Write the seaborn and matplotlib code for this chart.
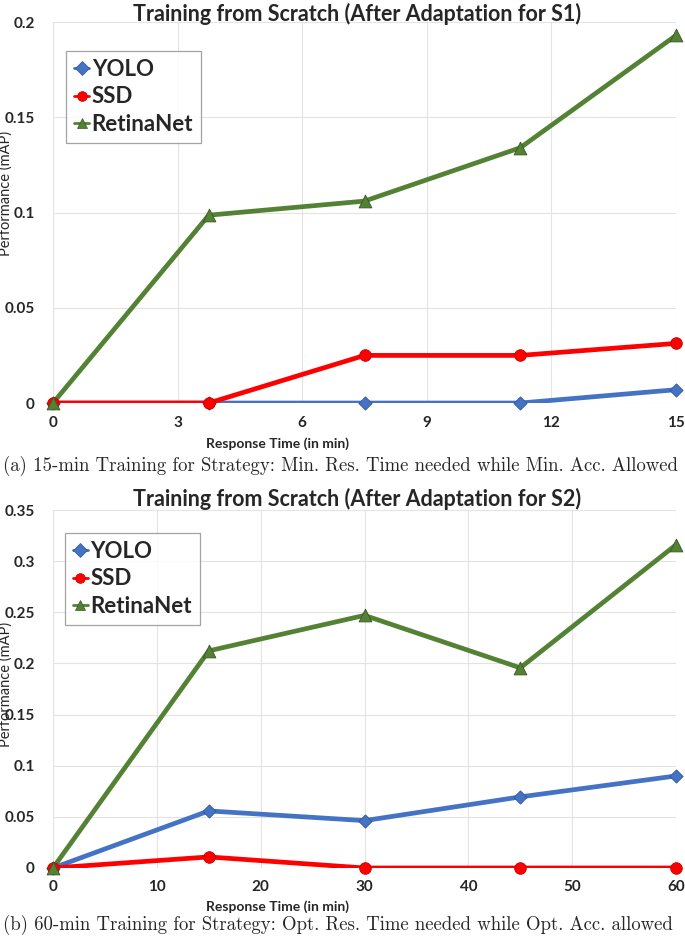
import pandas as pd
import matplotlib.pyplot as plt
import seaborn as sns
from matplotlib.lines import Line2D
from matplotlib.ticker import FuncFormatter, MultipleLocator

# --- data ---
models = ["YOLO", "SSD", "RetinaNet"]

time_s1 = [0, 3.75, 7.5, 11.25, 15]
yolo_s1 = [0, 0, 0, 0, 0.0070]
ssd_s1 = [0, 0, 0.025, 0.025, 0.0313]
retina_s1 = [0, 0.0986, 0.106, 0.134, 0.193]

time_s2 = [0, 15, 30, 45, 60]
yolo_s2 = [0, 0.0558, 0.0463, 0.0695, 0.090]
ssd_s2 = [0, 0.0108, 0, 0, 0]
retina_s2 = [0, 0.2123, 0.247, 0.1957, 0.316]

colors = {"YOLO": "#4472C4", "SSD": "#FF0000", "RetinaNet": "#548235"}
edges = {"YOLO": "#2F5597", "SSD": "#C00000", "RetinaNet": "#385723"}
markers = {"YOLO": "D", "SSD": "o", "RetinaNet": "^"}
msizes = {"YOLO": 45, "SSD": 70, "RetinaNet": 85}


def long_form(t, yolo, ssd, retina):
    rows = []
    for name, vals in zip(models, [yolo, ssd, retina]):
        for x, y in zip(t, vals):
            rows.append({"time": x, "mAP": y, "model": name})
    return pd.DataFrame(rows)


sns.set_style("white")
plt.rcParams["font.family"] = ["Lato", "DejaVu Sans"]

fig = plt.figure(figsize=(6.85, 9.41), dpi=100)
ax1 = fig.add_axes([0.0774, 0.5717, 0.9095, 0.4049])
ax2 = fig.add_axes([0.0774, 0.0776, 0.9095, 0.3804])

panels = [
    (ax1, long_form(time_s1, yolo_s1, ssd_s1, retina_s1), 15, 3, 0.2,
     "Training from Scratch (After Adaptation for S1)", 1, 0.55, (0.021, 0.924)),
    (ax2, long_form(time_s2, yolo_s2, ssd_s2, retina_s2), 60, 10, 0.35,
     "Training from Scratch (After Adaptation for S2)", 3, 0.514, (0.019, 0.936)),
]

for ax, df, xmax, xstep, ymax, title, tpad, ylab_y, leg_anchor in panels:
    for name in models:
        sub = df[df["model"] == name]
        sns.lineplot(data=sub, x="time", y="mAP", ax=ax, color=colors[name],
                     linewidth=3.4, legend=False)
        sns.scatterplot(data=sub, x="time", y="mAP", ax=ax,
                        color=colors[name], marker=markers[name],
                        s=msizes[name], edgecolor=edges[name],
                        linewidth=0.6, legend=False, zorder=3)
    # markers sit on the axis edge without being cut, like the original
    for coll in ax.collections:
        coll.set_clip_on(False)

    ax.set_xlim(0, xmax)
    ax.set_ylim(0, ymax)
    ax.xaxis.set_major_locator(MultipleLocator(xstep))
    ax.yaxis.set_major_locator(MultipleLocator(0.05))
    ax.yaxis.set_major_formatter(FuncFormatter(lambda v, p: f"{v:g}"))
    ax.grid(True, color="#E3E3E3", linewidth=0.8)
    ax.set_axisbelow(True)
    for sp in ax.spines.values():
        sp.set_visible(False)
    ax.tick_params(axis="both", length=0, labelsize=11)
    ax.tick_params(axis="x", pad=9)
    ax.tick_params(axis="y", pad=13)
    for lab in ax.get_xticklabels() + ax.get_yticklabels():
        lab.set_fontweight("bold")

    ax.set_title(title, fontsize=15.5, fontweight="bold", pad=tpad, x=0.488)
    ax.set_xlabel("Response Time (in min)", fontsize=10, fontweight="bold")
    ax.xaxis.set_label_coords(0.361, -0.089)
    ax.set_ylabel("Performance (mAP)", fontsize=10.5)
    ax.yaxis.set_label_coords(-0.064, ylab_y)

    handles = [Line2D([0], [0], color=colors[n], marker=markers[n], lw=2,
                      markersize=7, markeredgecolor=edges[n],
                      markeredgewidth=0.5) for n in models]
    leg = ax.legend(handles, models, loc="upper left", bbox_to_anchor=leg_anchor,
                    borderaxespad=0, frameon=True, fancybox=False,
                    handlelength=0.7, handletextpad=0.1, labelspacing=0.3,
                    borderpad=0.35, prop={"size": 16, "weight": "bold"})
    leg.get_frame().set_edgecolor("#8C8C8C")
    leg.get_frame().set_linewidth(0.9)

fig.text(0.004, 0.5048,
         "(a) 15-min Training for Strategy: Min. Res. Time needed while Min. Acc. Allowed",
         fontsize=13.5, family="cmr10", va="center", ha="left")
fig.text(0.004, 0.017,
         "(b) 60-min Training for Strategy: Opt. Res. Time needed while Opt. Acc. allowed",
         fontsize=13.5, family="cmr10", va="center", ha="left")

fig.savefig("out.png", dpi=100)
